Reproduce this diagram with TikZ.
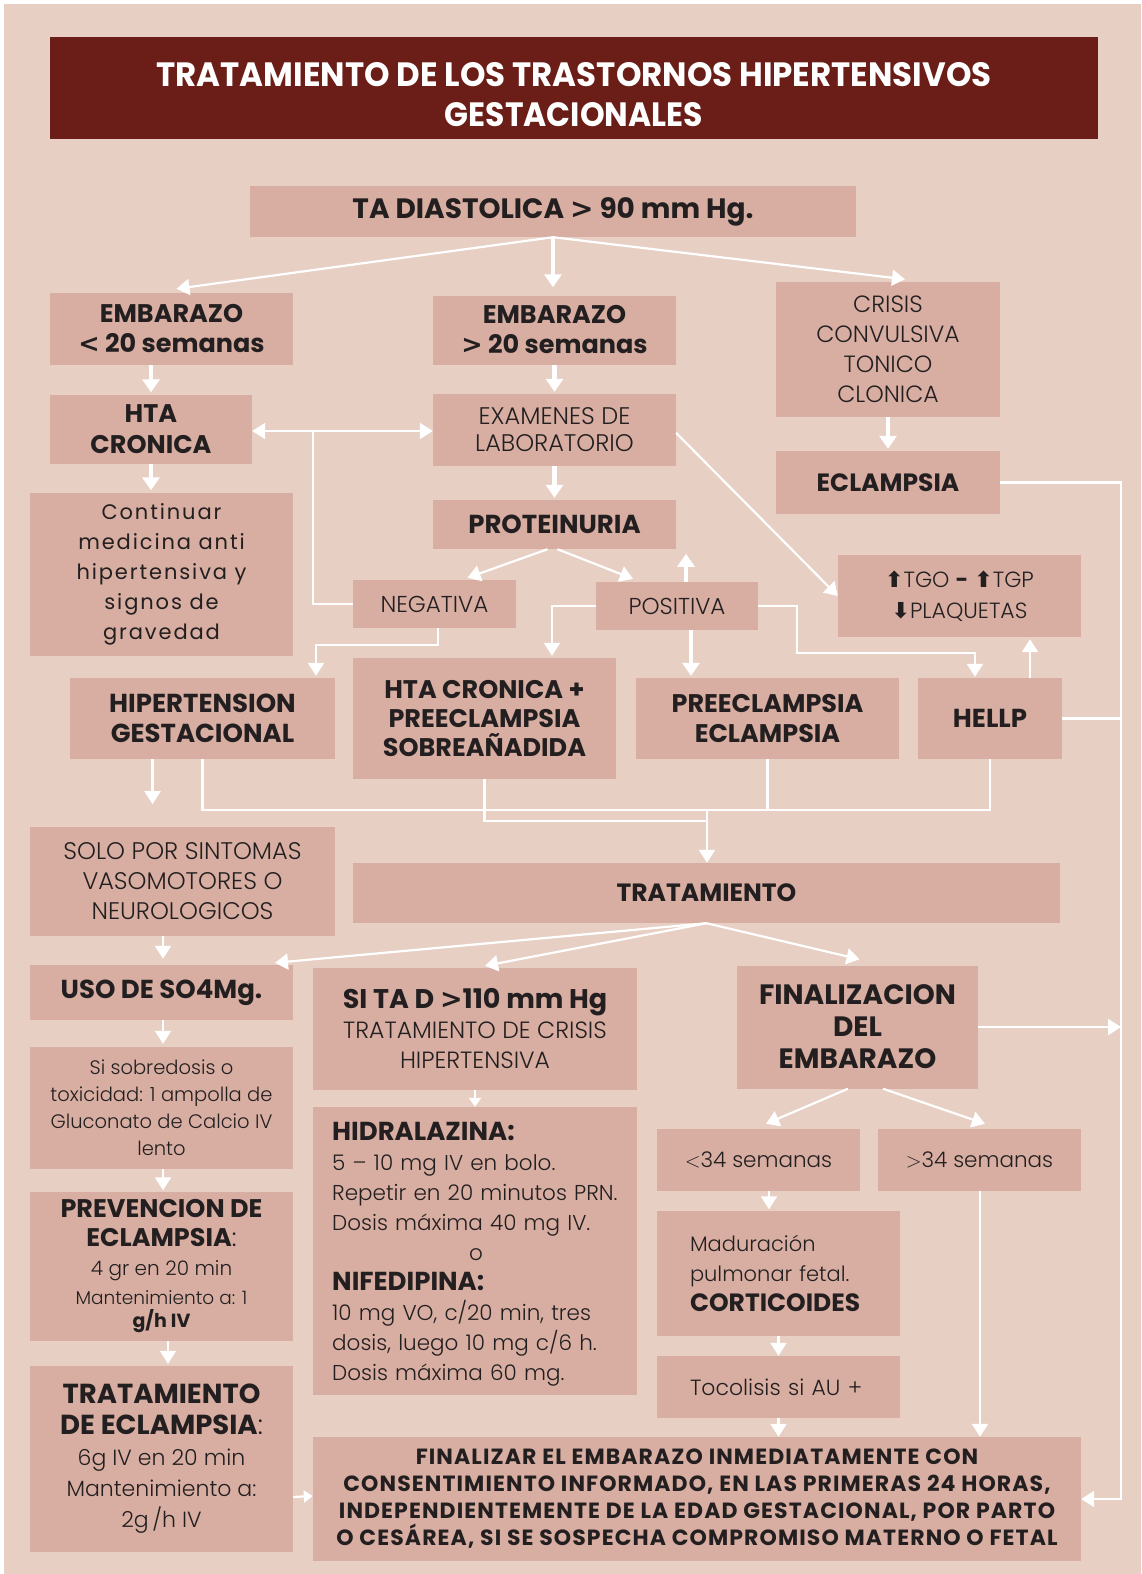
\documentclass[tikz,border=0pt]{standalone}
\usepackage{fontspec}
\usepackage{graphicx}
\setmainfont{Poppins}
\newfontfamily\lightfam{Poppins Light}
\newfontfamily\arrfam{DejaVu Sans}
\usetikzlibrary{arrows.meta,calc}
\definecolor{bgc}{HTML}{E8CFC3}
\definecolor{boxc}{HTML}{D7AEA1}
\definecolor{ttl}{HTML}{6A1E17}
\definecolor{txt}{HTML}{231F20}
\newcommand\fsz[2]{\fontsize{#1}{#2}\selectfont}
\newcommand\BF{\normalfont\bfseries}
\newcommand\LT{\lightfam\mdseries}
\newcommand\UA{{\arrfam\bfseries\fsz{22}{30}⬆}}
\newcommand\DA{{\arrfam\bfseries\fsz{22}{30}⬇}}
\newcommand\LTs{{\arrfam\bfseries <}}
\newcommand\GTs{{\arrfam\bfseries >}}
\begin{document}
\begin{tikzpicture}[x=1pt,y=-1pt,
  bx/.style={fill=boxc, inner sep=0pt, align=center, text=txt},
  ln/.style={draw=white, line width=2.2pt},
  arw/.style={ln, -{Triangle[length=13pt,width=16pt]}},
  thk/.style={draw=white, line width=4.5pt, -{Triangle[length=13pt,width=17pt]}},
  sarw/.style={ln, -{Triangle[length=9pt,width=12pt]}}
]
\useasboundingbox (0,0) rectangle (1141,1574);
\fill[white] (0,0) rectangle (1141,1574);
\fill[bgc] (4,4) rectangle (1141,1574);

% title
\node[fill=ttl, inner sep=0pt, minimum width=1048, minimum height=102] (title) at (574,88) {};
\node[text=white, inner sep=0pt, align=center, font=\BF] (titletext) at (574,94.5)
 {\resizebox{835pt}{24pt}{TRATAMIENTO DE LOS TRASTORNOS HIPERTENSIVOS}\\[14pt]\resizebox{258pt}{24pt}{GESTACIONALES}};

% boxes
\node[bx, minimum width=606, minimum height=51, font={\BF\fsz{28}{30}}] (ta) at (553,211.5) {TA DIASTOLICA \GTs{} 90 mm Hg.};
\node[bx, minimum width=243, minimum height=72, font={\BF\fsz{25.5}{30}}] (emb1) at (171.5,329) {EMBARAZO\\\LTs{} 20 semanas};
\node[bx, minimum width=243, minimum height=69, font={\BF\fsz{25.5}{30}}] (emb2) at (554.5,330) {EMBARAZO\\\GTs{} 20 semanas};
\node[bx, minimum width=224, minimum height=135, font={\LT\fsz{23.5}{30}}] (crisis) at (888,349) {CRISIS\\CONVULSIVA\\TONICO\\CLONICA};
\node[bx, minimum width=202, minimum height=69, font={\BF\fsz{25.5}{31}}] (htac) at (151,429) {HTA\\CRONICA};
\node[bx, minimum width=243, minimum height=72, font={\LT\fsz{24}{27}}] (exam) at (554.5,430) {EXAMENES DE\\LABORATORIO};
\node[bx, minimum width=224, minimum height=63, font={\BF\fsz{25}{30}}] (eclam) at (888,482.5) {ECLAMPSIA};
\node[bx, minimum width=263, minimum height=163, font={\normalfont\addfontfeature{LetterSpace=9}\fsz{21}{30}}] (cont) at (161.5,574) {Continuar\\medicina anti\\hipertensiva y\\signos de\\gravedad};
\node[bx, minimum width=243, minimum height=49, font={\BF\fsz{26}{30}}] (prot) at (554.5,524.5) {PROTEINURIA};
\node[bx, minimum width=163, minimum height=48, font={\LT\fsz{23}{30}}] (neg) at (434.5,604) {NEGATIVA};
\node[bx, minimum width=162, minimum height=48, font={\LT\fsz{23}{30}}] (pos) at (677,606) {POSITIVA};
\node[bx, minimum width=243, minimum height=82, font={\LT\fsz{22}{31}}] (tgo) at (959.5,596) {\UA TGO {\BF -} \UA TGP\\\DA PLAQUETAS};
\node[bx, minimum width=265, minimum height=81, font={\BF\fsz{26}{30}}] (hg) at (202.5,718.5) {HIPERTENSION\\GESTACIONAL};
\node[bx, minimum width=263, minimum height=121, font={\BF\fsz{25.5}{29}}] (htap) at (484.5,718.5) {HTA CRONICA +\\PREECLAMPSIA\\SOBREAÑADIDA};
\node[bx, minimum width=263, minimum height=81, font={\BF\fsz{25.5}{30}}] (pe) at (767.5,718.5) {PREECLAMPSIA\\ECLAMPSIA};
\node[bx, minimum width=144, minimum height=81, font={\BF\fsz{26}{30}}] (hellp) at (990,718.5) {HELLP};
\node[bx, minimum width=305, minimum height=109, font={\LT\fsz{24}{30}}] (solo) at (182.5,881) {SOLO POR SINTOMAS\\VASOMOTORES O\\NEUROLOGICOS};
\node[bx, minimum width=707, minimum height=60, font={\BF\fsz{25}{30}}] (trat) at (706.5,893) {TRATAMIENTO};
\node[bx, minimum width=263, minimum height=55, font={\BF\fsz{26}{30}}] (uso) at (161.5,992.5) {USO DE SO4Mg.};
\node[bx, minimum width=324, minimum height=122, font={\LT\fsz{23.5}{30}}] (sita) at (475,1029) {{\BF\fsz{27}{30}SI TA D \GTs110 mm Hg}\\TRATAMIENTO DE CRISIS\\HIPERTENSIVA};
\node[bx, minimum width=241, minimum height=123, font={\BF\fsz{28}{32}}] (fin) at (857.5,1027) {FINALIZACION\\DEL\\EMBARAZO};
\node[bx, minimum width=263, minimum height=122, font={\LT\fsz{19.5}{27}}] (sobre) at (161.5,1108) {Si sobredosis o\\toxicidad: 1 ampolla de\\Gluconato de Calcio IV\\lento};
\node[bx, minimum width=324, minimum height=288] (hidra) at (475,1251) {};
\node[anchor=north west, inner sep=0pt, text width=290, align=left, text=txt, font={\LT\fsz{21.5}{30}}] (hidratext) at (332,1122)
 {{\BF\fsz{26}{30}HIDRALAZINA:}\\
  5 – 10 mg IV en bolo.\\
  Repetir en 20 minutos PRN.\\
  Dosis máxima 40 mg IV.\\
  \hspace*{137pt}o\\
  {\BF\fsz{26}{30}NIFEDIPINA:}\\
  \makebox[286pt][s]{10 mg VO, c/20 min, tres}\\
  dosis, luego 10 mg c/6 h.\\
  Dosis máxima 60 mg.};
\node[bx, minimum width=203, minimum height=62, font={\LT\fsz{21.5}{30}}] (lt34) at (758.5,1160) {$<$34 semanas};
\node[bx, minimum width=203, minimum height=62, font={\LT\fsz{21.5}{30}}] (gt34) at (979.5,1160) {$>$34 semanas};
\node[bx, minimum width=263, minimum height=149, font={\BF\fsz{25.5}{29}}] (prev) at (161.5,1266)
 {PREVENCION DE\\ECLAMPSIA{\LT:}\\{\LT\fsz{20}{28}4 gr en 20 min}\\{\LT\fsz{18.5}{26}Mantenimiento a: 1}\\[-6pt]{\fsz{19}{22}g/h IV}};
\node[bx, minimum width=243, minimum height=125, text width=177, align=left, font={\LT\fsz{21}{30}}] (madu) at (778.5,1273)
 {Maduración\\pulmonar fetal.\\{\BF\fsz{25}{30}CORTICOIDES}};
\node[bx, minimum width=243, minimum height=62, text width=177, align=left, font={\LT\fsz{22}{30}}] (toco) at (778.5,1387) {Tocolisis si AU +};
\node[bx, minimum width=263, minimum height=186, font={\BF\fsz{27.5}{31}}] (trate) at (161.5,1459)
 {TRATAMIENTO\\DE ECLAMPSIA{\LT:}\\{\LT\fsz{22}{30}6g IV en 20 min}\\{\LT\fsz{22}{30}Mantenimiento a:}\\{\LT\fsz{22}{30}2g\,/h IV}};
\node[bx, minimum width=768, minimum height=124, font={\BF\addfontfeature{LetterSpace=5}\fsz{22}{27}}] (finz) at (697,1499)
 {FINALIZAR EL EMBARAZO INMEDIATAMENTE CON\\CONSENTIMIENTO INFORMADO, EN LAS PRIMERAS 24 HORAS,\\INDEPENDIENTEMENTE DE LA EDAD GESTACIONAL, POR PARTO\\O CESÁREA, SI SE SOSPECHA COMPROMISO MATERNO O FETAL};

% connectors
\draw[arw] (ta.south) -- ($(emb1.north)+(5,-4)$);
\draw[thk] (ta.south) -- ($(ta.south |- emb2.north)+(0,-8)$);
\draw[arw] (ta.south) -- ($(crisis.north)+(17,-2)$);
\draw[thk] (emb1.south -| htac.north) -- ($(htac.north)+(0,-2)$);
\draw[thk] (emb2.south) -- ($(exam.north)+(0,-2)$);
\draw[thk] (crisis.south) -- ($(eclam.north)+(0,-2)$);
\draw[thk] (htac.south) -- ($(htac.south |- cont.north)+(0,-2)$);
\draw[thk] (exam.south) -- ($(prot.north)+(0,-2)$);

\coordinate (j1) at (313,431);
\draw[ln] (neg.west) -| (j1);
\draw[arw] (j1) -- (j1 -| htac.east);
\draw[arw] (j1) -- (j1 -| exam.west);
\draw[arw] ($(exam.east)+(0,3)$) -- (tgo.west);
\draw[arw] ($(prot.south)+(-7,0)$) -- ($(neg.north)+(33,-2)$);
\draw[arw] ($(prot.south)+(3,0)$) -- ($(pos.north)+(-44,-3)$);
\draw[thk] ($(pos.north)+(9,0)$) -- ++(0,-28);
\draw[thk] ($(pos.south)+(14,0)$) -- ($(pe.north)+(-76.5,-2)$);
\draw[arw] (pos.west) -| ($(htap.north)+(67.5,-2)$);
\coordinate (p1) at (797,606);
\coordinate (p2) at (975,653);
\draw[arw] (pos.east) -- (p1) |- (p2) -- ($(hellp.north)+(-15,-1)$);
\coordinate (n1) at (316,645);
\draw[arw] ($(neg.south)+(3.5,0)$) |- (n1) -- ($(hg.north)+(113.5,-2)$);
\draw[arw] ($(hellp.north)+(40,0)$) -- ($(tgo.south)+(70.5,2)$);

\coordinate (r1) at (1121,482.5);
\coordinate (r2) at (1121,1499);
\draw[arw] (eclam.east) -- (r1) -- (r2) -- (finz.east);
\draw[ln] (hellp.east) -- (hellp.east -| r1);
\draw[arw] (fin.east) -- (fin.east -| r1);

\coordinate (m1) at (707,810);
\coordinate (m2) at (707,821);
\draw[ln] (hg.south) |- (hellp.south |- m1) -- (hellp.south);
\draw[ln] (pe.south) -- (pe.south |- m1);
\draw[ln] (htap.south) |- (m2);
\draw[arw] (m1) -- (m1 |- trat.north);

\draw[arw] ($(hg.south)+(-50,0)$) -- ++(0,45);
\draw[arw] ($(solo.south)+(-19.5,0)$) -- ($(uso.north)+(1.5,-6)$);
\draw[arw] (trat.south) -- ($(uso.north)+(113.5,-2)$);
\draw[arw] (trat.south) -- ($(sita.north)+(10,-2)$);
\draw[arw] (trat.south) -- ($(fin.north)+(2,-6)$);
\draw[arw] ($(uso.south)+(1.5,0)$) -- ($(sobre.north)+(1.5,-3)$);
\draw[arw] ($(sobre.south)+(1.5,0)$) -- ($(prev.north)+(1.5,-1)$);
\draw[arw] ($(prev.south)+(6.5,0)$) -- ($(trate.north)+(6.5,-2)$);
\draw[sarw] ($(trate.east)+(0,38)$) -- ($(finz.west)+(0,-3)$);
\draw[sarw] (sita.south) -- (sita.south |- hidra.north);
\draw[arw] ($(fin.south)+(-9.5,0)$) -- ($(lt34.north)+(7.5,-5)$);
\draw[arw] ($(fin.south)+(25.5,0)$) -- ($(gt34.north)+(5.5,-5)$);
\draw[arw] ($(lt34.south)+(10.5,0)$) -- ($(madu.north)+(-9.5,-1)$);
\draw[arw] (madu.south) -- (toco.north);
\draw[arw] (toco.south) -- (toco.south |- finz.north);
\draw[arw] ($(gt34.south)+(0.5,0)$) -- ($(gt34.south |- finz.north)+(0.5,0)$);
\end{tikzpicture}
\end{document}
